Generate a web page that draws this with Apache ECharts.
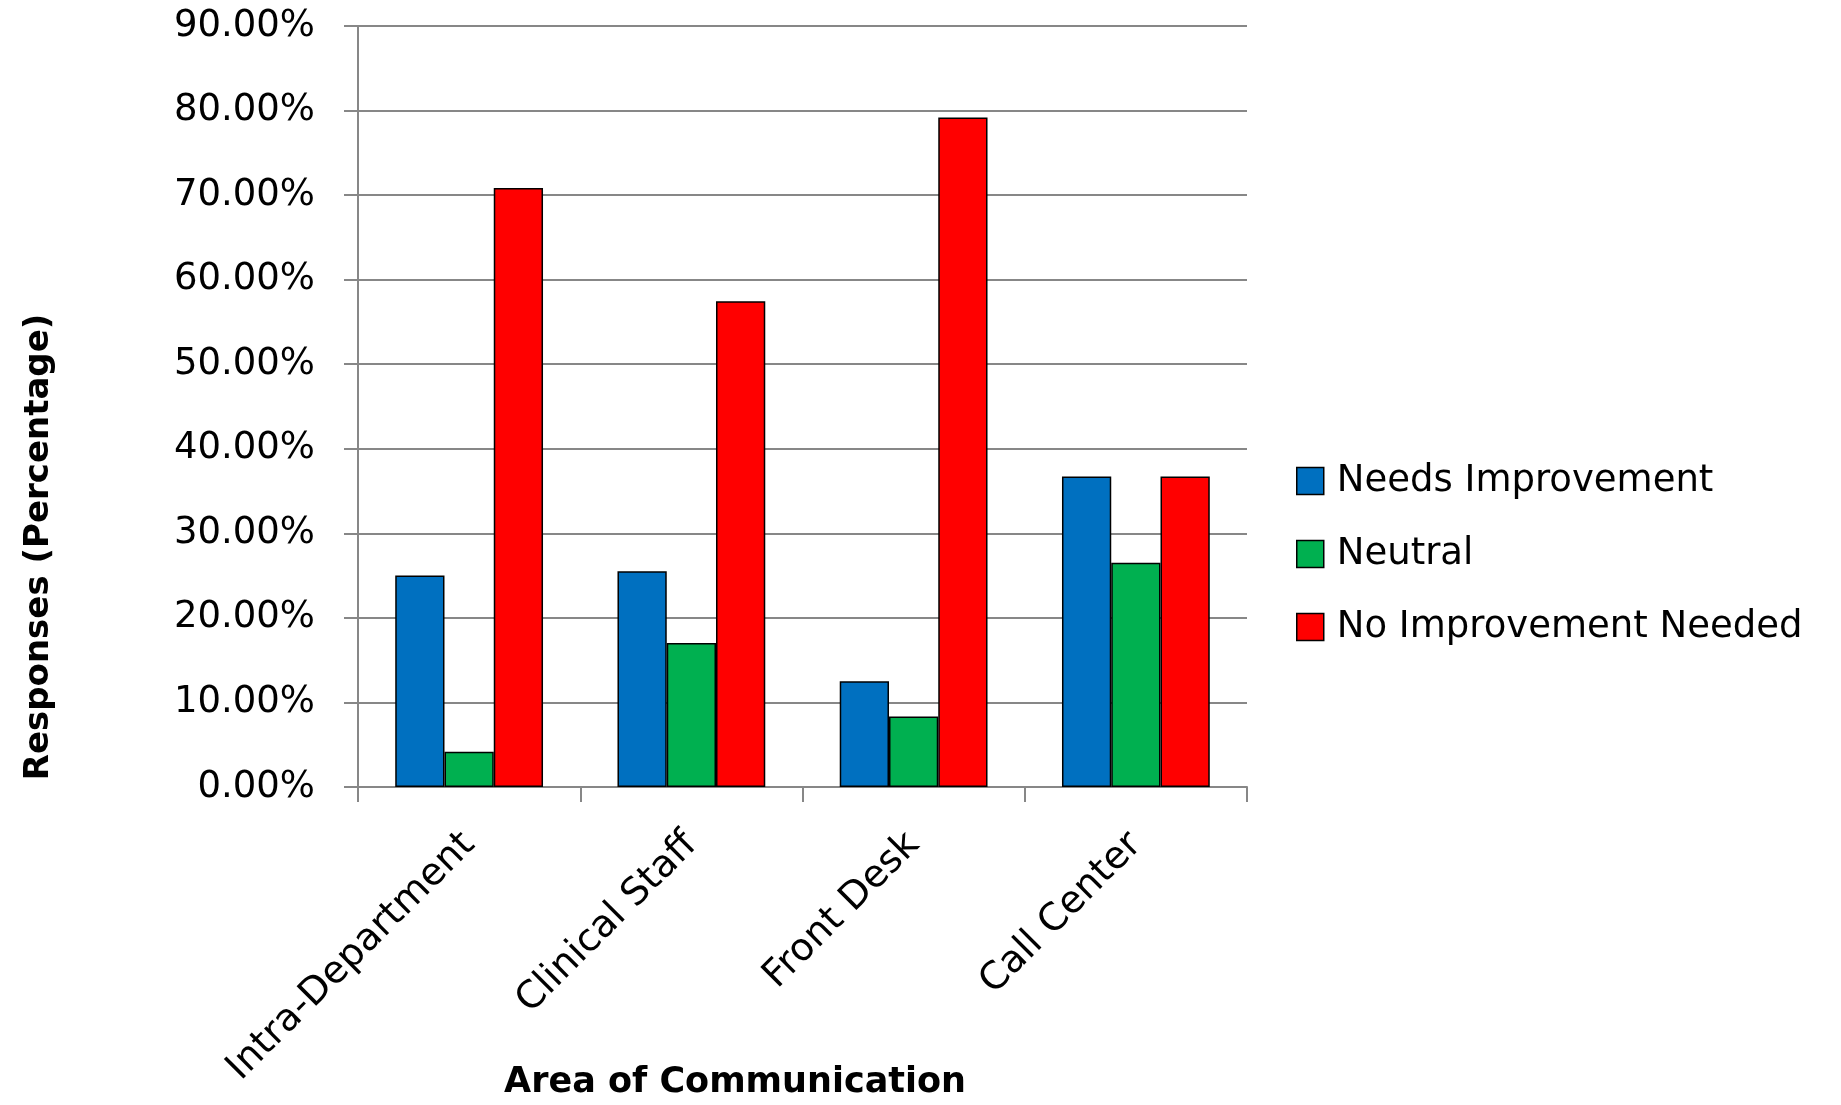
<!DOCTYPE html>
<html>
<head>
<meta charset="utf-8">
<title>Area of Communication</title>
<script src="https://cdn.jsdelivr.net/npm/echarts@6/dist/echarts.min.js"></script>
<style>
  html, body { margin: 0; padding: 0; background: #ffffff; }
  #chart { width: 1841px; height: 1105px; }
</style>
</head>
<body>
<div id="chart"></div>
<script>
// Survey responses by area of communication (percent of respondents)
const categories = ['Intra-Department', 'Clinical Staff', 'Front Desk', 'Call Center'];
const needsImprovement = [25.00, 25.53, 12.50, 36.73];
const neutral = [4.17, 17.02, 8.33, 26.53];
const noImprovementNeeded = [70.83, 57.45, 79.17, 36.73];
const yTicks = { min: 0, max: 90, step: 10 };

const FONT = '"DejaVu Sans", Verdana, sans-serif';
const GRID_GREY = '#878787';

const chart = echarts.init(document.getElementById('chart'), null, { renderer: 'canvas' });

function barSeries(name, data, color) {
  return {
    name: name,
    type: 'bar',
    data: data,
    barGap: '0%',
    barCategoryGap: '33.5%',
    itemStyle: { color: color, borderColor: '#000000', borderWidth: 1.5 },
    emphasis: { disabled: true }
  };
}

chart.setOption({
  animation: false,
  backgroundColor: '#ffffff',
  grid: { left: 358, top: 26, width: 889, height: 761, containLabel: false },
  legend: {
    orient: 'vertical',
    left: 1291,
    top: 457,
    itemWidth: 27,
    itemHeight: 27,
    itemGap: 35,
    icon: 'rect',
    selectedMode: false,
    textStyle: { fontFamily: FONT, fontSize: 37, color: '#000000', lineHeight: 38, padding: [0, 0, 0, 8] },
    itemStyle: { borderColor: '#000000', borderWidth: 1.5 },
    data: ['Needs Improvement', 'Neutral', 'No Improvement Needed']
  },
  xAxis: {
    type: 'category',
    data: categories,
    boundaryGap: true,
    axisLine: { show: true, lineStyle: { color: GRID_GREY, width: 2 } },
    axisTick: { show: true, length: 15, lineStyle: { color: GRID_GREY, width: 2 } },
    axisLabel: {
      interval: 0,
      rotate: 45,
      margin: 52,
      fontFamily: FONT,
      fontSize: 38,
      color: '#000000'
    },
    splitLine: { show: false }
  },
  yAxis: {
    type: 'value',
    min: yTicks.min,
    max: yTicks.max,
    interval: yTicks.step,
    axisLine: { show: true, lineStyle: { color: GRID_GREY, width: 2 } },
    axisTick: { show: true, length: 14, lineStyle: { color: GRID_GREY, width: 2 } },
    axisLabel: {
      margin: 43,
      fontFamily: FONT,
      fontSize: 37,
      color: '#000000',
      formatter: function (v) { return v.toFixed(2) + '%'; }
    },
    splitLine: { show: true, lineStyle: { color: GRID_GREY, width: 2 } }
  },
  graphic: [
    {
      type: 'text',
      x: 39,
      y: 547,
      rotation: Math.PI / 2,
      style: {
        text: 'Responses (Percentage)',
        fontFamily: FONT,
        fontWeight: 'bold',
        fontSize: 34,
        fill: '#000000',
        align: 'center',
        verticalAlign: 'middle'
      }
    },
    {
      type: 'text',
      x: 735,
      y: 1083,
      style: {
        text: 'Area of Communication',
        fontFamily: FONT,
        fontWeight: 'bold',
        fontSize: 35,
        fill: '#000000',
        align: 'center',
        verticalAlign: 'middle'
      }
    }
  ],
  series: [
    barSeries('Needs Improvement', needsImprovement, '#0070C0'),
    barSeries('Neutral', neutral, '#00B050'),
    barSeries('No Improvement Needed', noImprovementNeeded, '#FF0000')
  ]
});
</script>
</body>
</html>
